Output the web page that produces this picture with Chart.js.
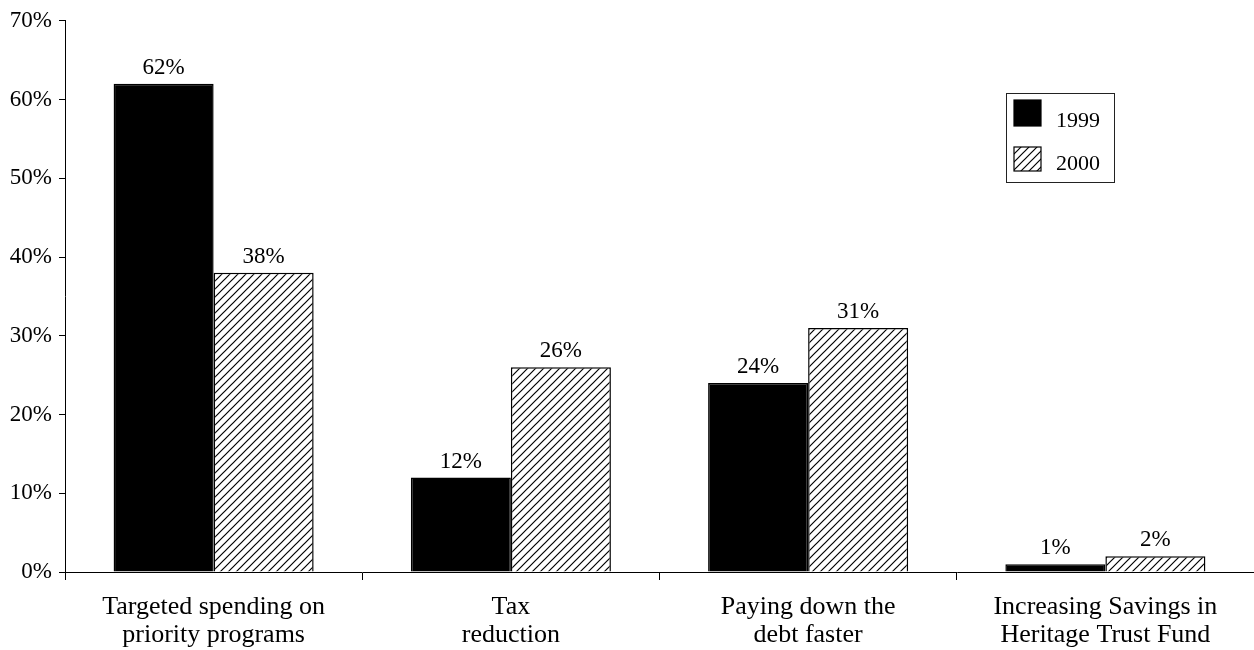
<!DOCTYPE html>
<html><head><meta charset="utf-8">
<script src="https://cdn.jsdelivr.net/npm/chart.js@4/dist/chart.umd.min.js"></script>
<style>html,body{margin:0;padding:0;background:#fff;}#wrap{width:1254px;height:650px;}</style>
</head><body><div id="wrap"><canvas id="c" width="1254" height="650"></canvas></div>
<script>
const categories = [["Targeted spending on","priority programs"],["Tax","reduction"],["Paying down the","debt faster"],["Increasing Savings in","Heritage Trust Fund"]];
const seriesNames = ["1999","2000"];
const values1999 = [62,12,24,1];
const values2000 = [38,26,31,2];
const yTickValues = [0,10,20,30,40,50,60,70];

const FONT = '"Liberation Serif", "Times New Roman", serif';

function makeHatch(){
  const p = document.createElement('canvas'); p.width = 8; p.height = 8;
  const g = p.getContext('2d');
  g.fillStyle = '#fff'; g.fillRect(0,0,8,8);
  g.strokeStyle = '#000'; g.lineWidth = 1.2;
  g.beginPath();
  g.moveTo(0,8); g.lineTo(8,0);
  g.moveTo(-1,1); g.lineTo(1,-1);
  g.moveTo(7,9); g.lineTo(9,7);
  g.stroke();
  return document.getElementById('c').getContext('2d').createPattern(p,'repeat');
}
const hatch = makeHatch();

const barLabels = {
  id:'barLabels',
  afterDatasetsDraw(chart){
    const ctx = chart.ctx; ctx.save();
    ctx.font = '23px ' + FONT; ctx.fillStyle = '#000';
    ctx.textAlign = 'center'; ctx.textBaseline = 'alphabetic';
    chart.data.datasets.forEach((ds,i)=>{
      chart.getDatasetMeta(i).data.forEach((el,j)=>{
        ctx.fillText(ds.data[j] + '%', el.x, el.y - 10);
      });
    });
    ctx.restore();
  }
};

const boxLegend = {
  id:'boxLegend',
  afterDraw(chart){
    const ctx = chart.ctx; ctx.save();
    const x0 = 1006, y0 = 93, w = 108, h = 89;
    const swY = [100, 147], swH = [26, 24], txY = [121, 164];
    ctx.strokeStyle = '#222'; ctx.lineWidth = 1;
    ctx.strokeRect(x0 + 0.5, y0 + 0.5, w, h);
    ctx.font = '22px ' + FONT; ctx.fillStyle = '#000';
    ctx.textAlign = 'left'; ctx.textBaseline = 'middle';
    chart.data.datasets.forEach((ds,i)=>{
      ctx.fillStyle = ds.backgroundColor;
      ctx.fillRect(x0 + 8, swY[i], 27, swH[i]);
      ctx.strokeStyle = '#000'; ctx.lineWidth = 1.2;
      ctx.strokeRect(x0 + 8, swY[i], 27, swH[i]);
      ctx.fillStyle = '#000';
      ctx.fillText(ds.label, x0 + 50, txY[i]);
    });
    ctx.restore();
  }
};

new Chart(document.getElementById('c'), {
  type:'bar',
  data:{
    labels: categories,
    datasets:[
      {label: seriesNames[0], data: values1999, backgroundColor:'#000', borderColor:'#000', borderWidth:1.5},
      {label: seriesNames[1], data: values2000, backgroundColor: hatch, borderColor:'#000', borderWidth:1.5}
    ]
  },
  options:{
    responsive:false, animation:false, devicePixelRatio:1,
    layout:{padding:{top:19,right:0,bottom:0,left:0}},
    categoryPercentage:0.673, barPercentage:1.0,
    plugins:{legend:{display:false}, tooltip:{enabled:false}},
    scales:{
      x:{
        grid:{display:true, drawOnChartArea:false, tickLength:8, color:'#000', offset:true},
        border:{display:true, color:'#000', width:1},
        ticks:{color:'#000', font:{family:FONT, size:26, lineHeight:'28px'}, padding:13, maxRotation:0, autoSkip:false},
        afterFit(s){ s.height = 78; }
      },
      y:{
        min:0, max:70,
        afterBuildTicks(s){ s.ticks = yTickValues.map(v=>({value:v})); },
        grid:{display:true, drawOnChartArea:false, tickLength:6, color:'#000'},
        border:{display:true, color:'#000', width:1},
        ticks:{color:'#000', font:{family:FONT, size:23}, padding:7, callback:v=>v+'%'},
        afterFit(s){ s.width = 65; }
      }
    }
  },
  plugins:[barLabels, boxLegend]
});
</script></body></html>
